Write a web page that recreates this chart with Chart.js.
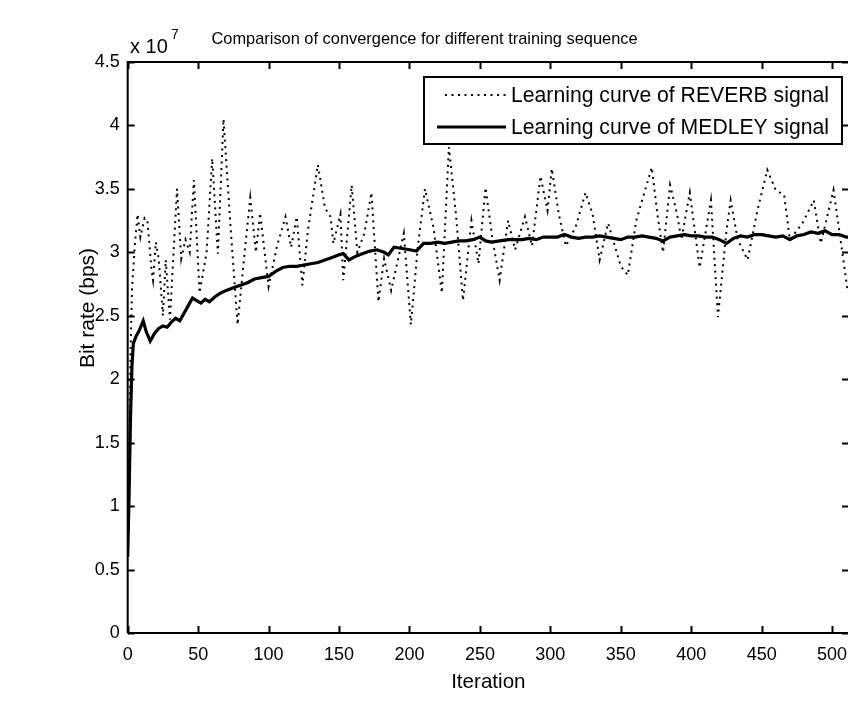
<!DOCTYPE html>
<html>
<head>
<meta charset="utf-8">
<script src="https://cdn.jsdelivr.net/npm/chart.js@4.4.1/dist/chart.umd.min.js"></script>
<style>
  html, body { margin: 0; padding: 0; background: #fff; overflow: hidden; }
  #wrap { width: 848px; height: 709px; overflow: hidden; position: relative; }
  canvas { display: block; }
</style>
</head>
<body>
<div id="wrap"><canvas id="c" width="852" height="709"></canvas></div>
<script>
// ---- data (bit rate in units of 1e7 bps) ----
const medleyIter = [0,1,2,3,4,6,8,11,13,16,19,22,25,28,31,34,37,40,43,46,49,52,55,58,62,66,70,75,80,85,90,95,100,105,110,115,120,125,130,135,140,145,150,153,157,162,167,172,177,182,185,189,195,200,205,210,215,220,225,230,235,240,245,250,254,258,264,270,275,280,285,290,295,300,305,310,315,320,325,330,335,340,345,350,355,360,365,370,375,380,385,390,395,400,405,410,415,420,425,430,435,440,445,450,455,460,465,470,475,480,485,490,495,500,505,510,512];
const medleyRate = [0.6,1.1,1.7,2.1,2.28,2.34,2.38,2.46,2.38,2.3,2.36,2.4,2.42,2.41,2.45,2.48,2.46,2.52,2.58,2.64,2.62,2.6,2.63,2.61,2.65,2.68,2.7,2.72,2.74,2.76,2.79,2.8,2.81,2.85,2.88,2.89,2.89,2.9,2.91,2.92,2.94,2.96,2.98,2.99,2.94,2.97,2.99,3.01,3.02,3.0,2.98,3.04,3.03,3.02,3.01,3.07,3.07,3.08,3.07,3.08,3.09,3.09,3.1,3.12,3.09,3.08,3.09,3.1,3.1,3.1,3.11,3.1,3.12,3.12,3.12,3.14,3.12,3.11,3.12,3.12,3.13,3.12,3.11,3.1,3.12,3.12,3.13,3.12,3.11,3.09,3.12,3.13,3.14,3.13,3.13,3.12,3.12,3.1,3.07,3.11,3.13,3.12,3.14,3.14,3.13,3.12,3.13,3.1,3.13,3.14,3.16,3.15,3.17,3.14,3.14,3.12,3.12];
const reverbIter = [0,1,2,3,5,7,9,12,14,17,18,20,22,25,27,30,35,38,41,44,47,51,56,60,64,68,73,78,83,87,91,94,100,106,112,116,120,124,128,135,140,144,146,151,153,159,163,168,173,178,182,187,196,201,206,211,217,223,228,233,238,244,249,254,259,264,270,275,282,287,293,298,301,306,311,318,325,330,335,341,350,355,361,372,376,380,385,390,393,399,406,414,419,425,428,433,440,447,454,460,466,470,479,487,492,501,506,511];
const reverbRate = [0.6,1.4,2.2,2.7,3.05,3.3,3.12,3.27,3.25,2.85,2.78,3.08,2.95,2.5,2.94,2.47,3.5,2.95,3.1,3.0,3.57,2.68,3.0,3.74,2.99,4.05,3.2,2.43,3.0,3.43,3.0,3.31,2.73,3.05,3.28,3.04,3.28,2.74,3.18,3.69,3.35,3.28,3.07,3.3,2.78,3.53,3.0,3.15,3.47,2.61,2.95,2.7,3.15,2.43,3.05,3.5,3.2,2.68,3.83,3.3,2.62,3.25,2.91,3.51,3.1,2.78,3.25,3.02,3.28,3.05,3.6,3.33,3.66,3.3,3.05,3.2,3.47,3.3,2.94,3.23,2.89,2.82,3.25,3.67,3.3,3.0,3.53,3.3,3.1,3.47,2.88,3.41,2.49,3.17,3.41,3.1,2.94,3.33,3.65,3.49,3.45,3.1,3.23,3.41,3.07,3.49,3.1,2.7];
const xTicks = [0,50,100,150,200,250,300,350,400,450,500];
const yTicks = [0,0.5,1,1.5,2,2.5,3,3.5,4,4.5];
const seriesLabels = ['Learning curve of REVERB signal', 'Learning curve of MEDLEY signal'];
const titleText = 'Comparison of convergence for different training sequence';
const xLabel = 'Iteration';
const yLabel = 'Bit rate (bps)';

const SANS = "'Liberation Sans', Arial, Helvetica, sans-serif";

const toPts = (xs, ys) => xs.map((x, i) => ({x, y: ys[i]}));

const matlabAxes = {
  id: 'matlabAxes',
  afterDraw(chart) {
    const {ctx, chartArea: a, scales: {x, y}} = chart;
    ctx.save();
    ctx.strokeStyle = '#000';
    ctx.lineWidth = 2;
    // box
    ctx.beginPath();
    ctx.moveTo(a.left, a.bottom); ctx.lineTo(a.left, a.top); ctx.lineTo(a.right, a.top);
    ctx.lineTo(a.right, a.bottom); ctx.lineTo(a.left, a.bottom);
    ctx.stroke();
    // inward ticks
    const L = 7;
    ctx.beginPath();
    xTicks.forEach(v => {
      const p = Math.round(x.getPixelForValue(v)) + 0.5;
      ctx.moveTo(p, a.bottom); ctx.lineTo(p, a.bottom - L);
      ctx.moveTo(p, a.top); ctx.lineTo(p, a.top + L);
    });
    yTicks.forEach(v => {
      const p = Math.round(y.getPixelForValue(v)) + 0.5;
      ctx.moveTo(a.left, p); ctx.lineTo(a.left + L, p);
      ctx.moveTo(a.right, p); ctx.lineTo(a.right - L, p);
    });
    ctx.stroke();
    ctx.fillStyle = '#000';
    // y label
    ctx.save();
    ctx.translate(88, 308);
    ctx.rotate(-Math.PI / 2);
    ctx.font = '21px ' + SANS;
    ctx.textAlign = 'center';
    ctx.textBaseline = 'middle';
    ctx.fillText(yLabel, 0, 0);
    ctx.restore();
    // exponent
    ctx.textBaseline = 'alphabetic';
    ctx.textAlign = 'left';
    ctx.font = '20px ' + SANS;
    ctx.fillText('x 10', 130, 53);
    ctx.font = '14px ' + SANS;
    ctx.fillText('7', 171, 39);
    // legend
    const lx = 424, ly = 77, lw = 418, lh = 67;
    ctx.fillStyle = '#fff';
    ctx.fillRect(lx, ly, lw, lh);
    ctx.lineWidth = 2;
    ctx.strokeRect(lx, ly, lw, lh);
    const ds = chart.data.datasets;
    const rows = [95, 127];
    ds.forEach((d, i) => {
      ctx.save();
      ctx.strokeStyle = d.borderColor;
      ctx.lineWidth = d.borderWidth;
      ctx.setLineDash(d.borderDash || []);
      ctx.beginPath();
      ctx.moveTo(i === 0 ? 445 : 437, rows[i]);
      ctx.lineTo(506, rows[i]);
      ctx.stroke();
      ctx.restore();
      ctx.fillStyle = '#000';
      ctx.font = '21.2px ' + SANS;
      ctx.textBaseline = 'middle';
      ctx.textAlign = 'left';
      ctx.fillText(d.label, 511, rows[i] + 1);
    });
    ctx.restore();
  }
};

new Chart(document.getElementById('c'), {
  type: 'line',
  data: {
    datasets: [
      { label: seriesLabels[0], data: toPts(reverbIter, reverbRate), borderColor: '#000', borderWidth: 2,
        borderDash: [2, 4.5], pointRadius: 0, tension: 0, fill: false },
      { label: seriesLabels[1], data: toPts(medleyIter, medleyRate), borderColor: '#000', borderWidth: 3.2,
        pointRadius: 0, tension: 0, fill: false }
    ]
  },
  options: {
    responsive: false,
    animation: false,
    layout: { padding: { left: 0, right: 3, top: 0, bottom: 0 } },
    plugins: {
      legend: { display: false },
      tooltip: { enabled: false },
      title: {
        display: true, text: titleText, color: '#000',
        font: { family: SANS, size: 16.4, weight: 'normal', lineHeight: 1.2 },
        padding: { top: 30, bottom: 12.3 }
      }
    },
    scales: {
      x: {
        type: 'linear', min: 0, max: 512,
        afterFit(s) { s.height = 76; s.paddingLeft = 0; s.paddingRight = 0; },
        afterBuildTicks(s) { s.ticks = xTicks.map(v => ({value: v})); },
        grid: { display: false, drawTicks: false },
        border: { display: false },
        ticks: { color: '#000', padding: 11, maxRotation: 0, autoSkip: false,
                 font: { family: SANS, size: 18 } },
        title: { display: true, text: xLabel, color: '#000', font: { family: SANS, size: 20.6 },
                 padding: { top: 0, bottom: 14.5 } }
      },
      y: {
        type: 'linear', min: 0, max: 4.5,
        afterFit(s) { s.width = 127.7; s.paddingTop = 0; s.paddingBottom = 0; },
        afterBuildTicks(s) { s.ticks = yTicks.map(v => ({value: v})); },
        grid: { display: false, drawTicks: false },
        border: { display: false },
        ticks: { color: '#000', padding: 8, autoSkip: false,
                 font: { family: SANS, size: 18 },
                 callback: v => String(+v.toFixed(1)) },
        title: { display: false }
      }
    }
  },
  plugins: [matlabAxes]
});
</script>
</body>
</html>
